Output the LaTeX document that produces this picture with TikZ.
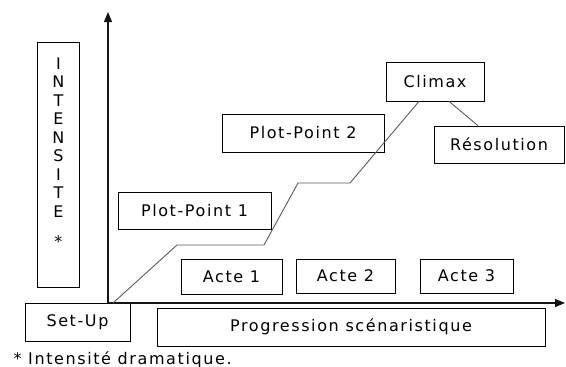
\documentclass[tikz,border=0pt]{standalone}
\usepackage{fontspec}
\setmainfont{DejaVu Sans}[LetterSpace=10]
\usepackage{tikz}
\usetikzlibrary{arrows.meta}
\definecolor{caxis}{RGB}{20,20,20}
\definecolor{ccurve}{RGB}{90,90,90}

\begin{document}
\begin{tikzpicture}[x=1pt, y=-1pt, >={Triangle[length=10pt, width=8pt]},
  box/.style={draw, line width=0.8pt, inner sep=0pt, font=\fontsize{16}{19}\selectfont},
  curve/.style={ccurve, line width=0.9pt}]
\useasboundingbox (0,0) rectangle (566,367);
\coordinate (O) at (108,303);   % origin of the axes
\coordinate (ytop) at (108,12);
\coordinate (xend) at (565,303);
% the boxes
\node[box, anchor=north west, minimum width=42, align=center,
  font=\fontsize{16}{18.5}\selectfont, text height=205pt, text depth=40pt]
  (intens) at (37,42) {I\\N\\T\\E\\N\\S\\I\\T\\E\\[11.5pt]*};
\node[box, minimum width=105, minimum height=38] (setup)  at (77.5,322)  {Set-Up};
\node[box, minimum width=388, minimum height=38] (prog)   at (351,327)   {Progression scénaristique};
\node[box, minimum width=101, minimum height=35] (acte1)  at (231.5,276.5) {Acte 1};
\node[box, minimum width=99,  minimum height=34] (acte2)  at (345.5,276) {Acte 2};
\node[box, minimum width=93,  minimum height=34] (acte3)  at (466.5,276) {Acte 3};
\node[box, minimum width=153, minimum height=37] (pp1)    at (194.5,210.5) {Plot-Point 1};
\node[box, minimum width=162, minimum height=38] (pp2)    at (303,133)   {Plot-Point 2};
\node[box, minimum width=98,  minimum height=39] (climax) at (435,81.5)  {Climax};
\node[box, minimum width=130, minimum height=37] (resol)  at (499,144.5) {Résolution};
\node[anchor=base west, font=\fontsize{16}{19}\selectfont] (note) at (10,364)
  {* Intensité dramatique.};
% axes
\draw[->, caxis, line width=1.2pt] (O) -- (ytop);
\draw[->, caxis, line width=1.2pt] (O) -- (xend);
% dramatic curve
\coordinate (k0) at (113,303);
\coordinate (k1) at (177,245);
\coordinate (k2) at (264,245);
\coordinate (k3) at (298,183);
\coordinate (k4) at (350,183);
\draw[curve] (k0) -- (k1) -- (k2) -- (k3) -- (k4) -- ([xshift=-16pt]climax.south);
\draw[curve] ([xshift=14pt]climax.south) -- ([xshift=-21pt]resol.north);
\end{tikzpicture}
\end{document}
